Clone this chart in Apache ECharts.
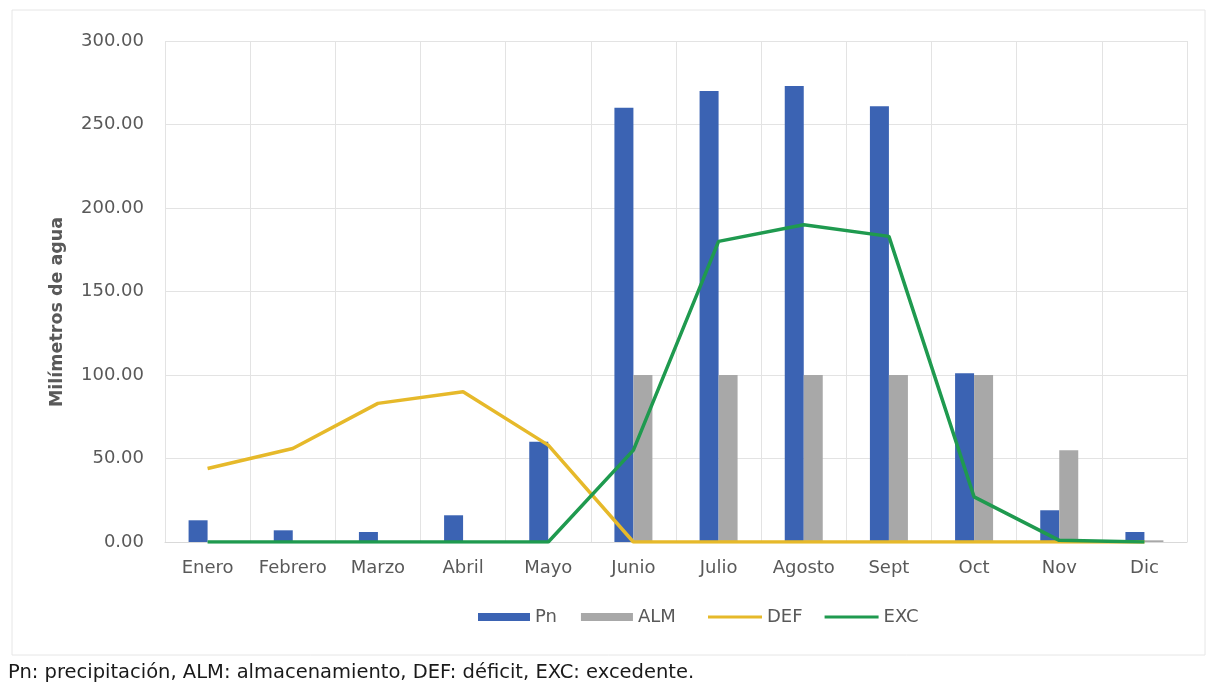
<!DOCTYPE html>
<html><head><meta charset="utf-8">
<script src="https://cdn.jsdelivr.net/npm/echarts@6/dist/echarts.min.js"></script>
<style>html,body{margin:0;padding:0;background:#fff;}#c{width:1215px;height:683px;}</style>
</head><body><div id="c"></div>
<script>
const categories = ['Enero','Febrero','Marzo','Abril','Mayo','Junio','Julio','Agosto','Sept','Oct','Nov','Dic'];
const pn  = [13, 7, 6, 16, 60, 260, 270, 273, 261, 101, 19, 6];
const alm = [0, 0, 0, 0, 0, 100, 100, 100, 100, 100, 55, 1];
const def = [44, 56, 83, 90, 58, 0, 0, 0, 0, 0, 0, 0];
const exc = [0, 0, 0, 0, 0, 55, 180, 190, 183, 27, 1, 0];
const yTicks = [0, 50, 100, 150, 200, 250, 300];
const yTitle = 'Milímetros de agua';
const footnote = 'Pn: precipitación, ALM: almacenamiento, DEF: déficit, EXC: excedente.';

const chart = echarts.init(document.getElementById('c'));
const font = 'DejaVu Sans, Liberation Sans, sans-serif';
const legendText = {fontSize: 18, color: '#595959', fontFamily: font};
chart.setOption({
  animation: false,
  textStyle: {fontFamily: font},
  graphic: [
    {type:'rect', shape:{x:12, y:10, width:1193, height:645}, style:{fill:'none', stroke:'#e6e6e6', lineWidth:1}},
    {type:'text', x:57, y:312, rotation: Math.PI/2,
     style:{text: yTitle, font:'bold 17.5px ' + font, fill:'#595959', textAlign:'center', textVerticalAlign:'middle'}},
    {type:'text', left:8, top:663, style:{text: footnote, font:'19.5px ' + font, fill:'#1a1a1a'}}
  ],
  grid: {left:165, right:28, top:41, bottom:141},
  legend: [
    {top: 603, left: 473, itemGap: 24, itemWidth: 52, itemHeight: 8, textStyle: legendText,
     data: [{name:'Pn', icon:'rect'}, {name:'ALM', icon:'rect'}]},
    {top: 603, left: 703, itemGap: 22, itemWidth: 54, itemHeight: 3, textStyle: legendText,
     data: [{name:'DEF', icon:'rect'}, {name:'EXC', icon:'rect'}]}
  ],
  xAxis: {
    type:'category', data: categories,
    axisTick:{show:false},
    axisLine:{lineStyle:{color:'#d9d9d9'}},
    axisLabel:{color:'#595959', fontSize:18, margin:17, interval:0},
    splitLine:{show:true, interval:0, lineStyle:{color:'#e3e3e3'}}
  },
  yAxis: {
    type:'value', min: yTicks[0], max: yTicks[yTicks.length-1], interval: 50,
    axisLine:{show:false}, axisTick:{show:false},
    axisLabel:{color:'#595959', fontSize:18, margin:21, formatter: v => v.toFixed(2)},
    splitLine:{lineStyle:{color:'#e3e3e3'}}
  },
  series: [
    {name:'Pn', type:'bar', data: pn, barWidth:19, barGap:'0%', itemStyle:{color:'#3b63b3'}},
    {name:'ALM', type:'bar', data: alm, barWidth:19, itemStyle:{color:'#a8a8a8'}},
    {name:'DEF', type:'line', data: def, symbol:'none', lineStyle:{width:3.5, color:'#e6b92a'}, itemStyle:{color:'#e6b92a'}},
    {name:'EXC', type:'line', data: exc, symbol:'none', lineStyle:{width:3.5, color:'#1f9a4f'}, itemStyle:{color:'#1f9a4f'}}
  ]
});
</script></body></html>
